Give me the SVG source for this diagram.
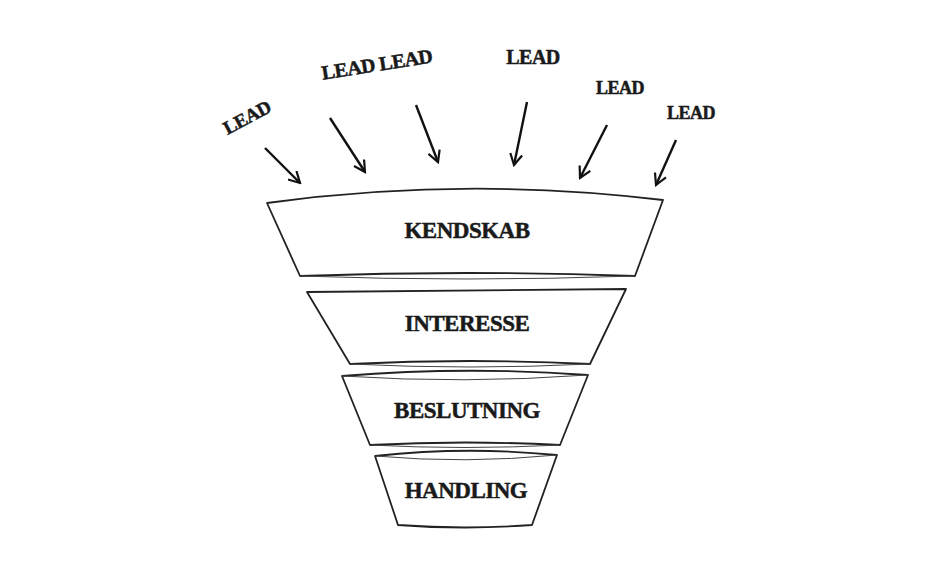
<svg xmlns="http://www.w3.org/2000/svg" width="950" height="580" viewBox="0 0 950 580">
<style>
.t{font-family:"Liberation Serif","DejaVu Serif",serif;font-weight:bold;fill:#1a1a1a;stroke:#1a1a1a;stroke-width:0.5;text-anchor:middle;letter-spacing:-0.5px}
.s{fill:#fff;stroke:#222;stroke-width:1.8;stroke-linejoin:round}
.a{stroke:#111;stroke-width:2.4;fill:none;marker-end:url(#h)}
</style>
<defs><marker id="h" markerWidth="14" markerHeight="14" refX="12" refY="7" orient="auto" markerUnits="userSpaceOnUse"><path d="M1,1 L12,7 L1,13" fill="none" stroke="#111" stroke-width="2.2"/></marker></defs>
<rect width="950" height="580" fill="#fff"/>
<g id="connectors">
<line class="a" x1="265" y1="148" x2="300" y2="183"/>
<line class="a" x1="330" y1="118" x2="365" y2="172"/>
<line class="a" x1="416" y1="105" x2="438" y2="162"/>
<line class="a" x1="527" y1="102" x2="514" y2="165"/>
<line class="a" x1="607" y1="125" x2="580" y2="178"/>
<line class="a" x1="676" y1="140" x2="656" y2="185"/>
</g>
<g id="labels">
<text class="t" font-size="19" transform="translate(250,123) rotate(-28)">LEAD</text>
<text class="t" font-size="20" transform="translate(378,71) rotate(-9)">LEAD LEAD</text>
<text class="t" font-size="20" x="533" y="64">LEAD</text>
<text class="t" font-size="18" x="620" y="94">LEAD</text>
<text class="t" font-size="18" x="691" y="119">LEAD</text>
</g>
<g id="kendskab">
<path class="s" d="M267,203 Q465,176 663,200 L635,276 Q467,270 300,276 Z"/>
<path d="M300,276 Q467,282 635,276" fill="none" stroke="#444" stroke-width="1"/>
<text class="t" font-size="23" x="467" y="238">KENDSKAB</text>
</g>
<g id="interesse">
<path class="s" d="M307,292 L626,289 L590,364 Q470,358 350,364 Z"/>
<path d="M350,364 Q470,370 590,364" fill="none" stroke="#444" stroke-width="1"/>
<text class="t" font-size="23" x="467" y="331">INTERESSE</text>
</g>
<g id="beslutning">
<path class="s" d="M342,376 Q465,366 588,375 L560,445 Q465,440 370,445 Z"/>
<path d="M342,376 Q465,384 588,375 M370,445 Q465,450 560,445" fill="none" stroke="#444" stroke-width="1"/>
<text class="t" font-size="23" x="467" y="418">BESLUTNING</text>
</g>
<g id="handling">
<path class="s" d="M375,456 Q466,446 557,455 L532,525 Q465,530 398,525 Z"/>
<path d="M375,456 Q466,464 557,455" fill="none" stroke="#444" stroke-width="1"/>
<text class="t" font-size="23" x="466" y="498">HANDLING</text>
</g>
</svg>
